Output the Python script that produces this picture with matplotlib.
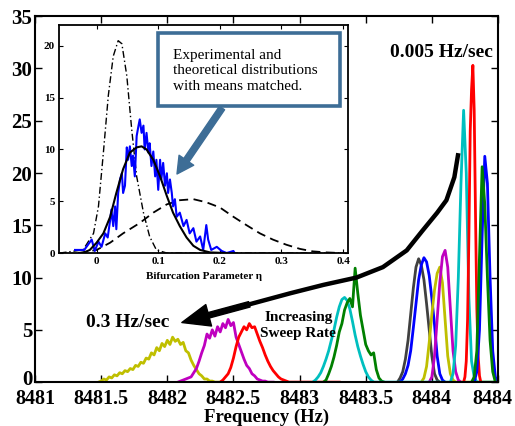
import numpy as np
import matplotlib
matplotlib.use('Agg')
import matplotlib.pyplot as plt
import matplotlib.transforms as mtransforms
from matplotlib.patches import Rectangle, FancyArrowPatch

plt.rcParams['font.family'] = ['Liberation Serif', 'DejaVu Serif']

# ---------------- data: main frequency histograms ----------------
yel1_start, yel1_step = 8481.48, 0.02
yel1_vals = [0, 0.1, 0.3, 0.2, 0.5, 0.4, 0.7, 0.6, 0.9, 0.8, 1.1, 1.0, 1.3, 1.2, 1.6, 1.5,
             1.9, 1.8, 2.3, 2.2, 2.8, 2.6, 3.3, 3.0, 3.7, 3.4, 4.0, 3.6, 4.3, 3.9, 4.1, 3.6,
             3.8, 3.0, 2.8, 2.1, 1.6, 1.2, 0.8, 0.6, 0.3, 0.3, 0.1, 0.1, 0, 0, 0]
mag1_start, mag1_step = 8482.08, 0.02
mag1_vals = [0, 0.1, 0.2, 0.3, 0.4, 0.5, 0.9, 1.3, 2.0, 2.8, 3.5, 4.6, 4.2, 5.0, 4.4, 5.3,
             4.8, 5.6, 5.2, 6.0, 5.4, 5.7, 4.3, 3.6, 2.9, 2.2, 1.6, 1.3, 0.8, 0.6, 0.3, 0.2,
             0.1, 0.1, 0, 0, 0]
red1_start, red1_step = 8482.40, 0.02
red1_vals = [0, 0.2, 0.5, 0.8, 1.4, 2.3, 3.4, 4.3, 4.8, 5.3, 5.0, 5.6, 5.2, 5.3, 4.6, 3.9,
             3.3, 2.6, 2.0, 1.5, 1.1, 0.8, 0.5, 0.3, 0.2, 0.1] + [0] * 20
cya1_start, cya1_step = 8483.10, 0.02
cya1_vals = [0, 0.2, 0.5, 0.9, 1.5, 2.2, 3.0, 4.0, 5.0, 6.2, 7.2, 7.9, 8.1, 7.8, 7.0, 5.8,
             4.5, 3.4, 2.5, 1.7, 1.0, 0.5, 0.2, 0]
grn1_start, grn1_step = 8483.18, 0.02
grn1_vals = [0, 0.2, 0.8, 1.5, 2.4, 3.5, 4.8, 5.6, 6.9, 7.6, 8.0, 7.2, 10.9, 8.5, 6.4, 5.0,
             3.6, 3.0, 2.6, 2.8, 1.2, 0.4, 0.1, 0]
gry1_start, gry1_step = 8483.74, 0.02
gry1_vals = [0, 0.4, 1.0, 2.2, 4.0, 6.5, 9.0, 11.0, 11.8, 11.2, 9.8, 7.5, 5.0, 2.5, 0.8, 0.2, 0]
blu1_start, blu1_step = 8483.76, 0.02
blu1_vals = [0, 0.3, 0.8, 1.6, 3.0, 5.2, 7.5, 9.8, 11.2, 11.9, 11.5, 10.2, 8.0, 5.5, 2.5,
             0.8, 0.2, 0]
yel2_start, yel2_step = 8483.92, 0.02
yel2_vals = [0, 0.4, 1.5, 3.8, 6.5, 8.8, 10.4, 11.0, 9.5, 6.0, 2.5, 0.8, 0.2, 0] + [0] * 14
mag2_start, mag2_step = 8483.98, 0.02
mag2_vals = [0, 0.5, 2.5, 6.0, 9.5, 12.0, 12.6, 11.0, 7.0, 3.0, 1.0, 0.2, 0]
cya2_start, cya2_step = 8483.56, 0.02
cya2_vals = [0] * 30 + [0.8, 3.5, 10.0, 19.0, 26.0, 20.0, 8.0, 2.0, 0.5, 0] + [0] * 8
red2_start, red2_step = 8484.24, 0.01
red2_vals = [0, 0.5, 2, 6, 14, 24, 28, 30.3, 26, 16, 7, 2.5, 0.6, 0]
blu2_start, blu2_step = 8484.32, 0.02
blu2_vals = [0, 1, 5, 14, 21.6, 19, 10, 3, 0.5, 0]
grn2_start, grn2_step = 8484.30, 0.02
grn2_vals = [0, 0.5, 3, 12, 20.6, 17, 10, 4, 1, 0]

main_series = [
    (yel1_start, yel1_step, yel1_vals, (0.75, 0.75, 0)),
    (mag1_start, mag1_step, mag1_vals, (0.75, 0, 0.75)),
    (red1_start, red1_step, red1_vals, (1, 0, 0)),
    (cya1_start, cya1_step, cya1_vals, (0, 0.75, 0.75)),
    (grn1_start, grn1_step, grn1_vals, (0, 0.5, 0)),
    (gry1_start, gry1_step, gry1_vals, (0.25, 0.25, 0.25)),
    (blu1_start, blu1_step, blu1_vals, (0, 0, 1)),
    (yel2_start, yel2_step, yel2_vals, (0.75, 0.75, 0)),
    (mag2_start, mag2_step, mag2_vals, (0.75, 0, 0.75)),
    (cya2_start, cya2_step, cya2_vals, (0, 0.75, 0.75)),
    (red2_start, red2_step, red2_vals, (1, 0, 0)),
    (blu2_start, blu2_step, blu2_vals, (0, 0, 1)),
    (grn2_start, grn2_step, grn2_vals, (0, 0.5, 0)),
]

xticks = [8481, 8481.5, 8482, 8482.5, 8483, 8483.5, 8484, 8484.5]
xtick_labels = ['8481', '8481.5', '8482', '8482.5', '8483', '8483.5', '8484', '8484']
yticks = [0, 5, 10, 15, 20, 25, 30, 35]

# curved arrow path (annotation)
arrow_x = [8484.20, 8484.17, 8484.11, 8484.04, 8483.93, 8483.81, 8483.63, 8483.43, 8483.18, 8482.93, 8482.62]
arrow_y = [21.9, 19.6, 17.4, 16.2, 14.5, 12.6, 11.0, 10.0, 9.3, 8.5, 7.44]
arrow_tip = (8482.11, 5.7)

# ---------------- data: inset ----------------
eta_dd = [-0.06, -0.022, -0.005, 0.003, 0.011, 0.019, 0.027, 0.035, 0.041, 0.049, 0.057,
          0.065, 0.076, 0.086, 0.097, 0.114, 0.2, 0.3, 0.4]
val_dd = [0, 0.3, 1.9, 4.5, 9.7, 15.2, 19.0, 20.5, 20.2, 17.1, 11.9, 7.4, 3.9, 1.6, 0.3, 0,
          0, 0, 0]
eta_th = [-0.022, -0.011, 0, 0.011, 0.022, 0.032, 0.043, 0.054, 0.065, 0.073, 0.081, 0.092,
          0.103, 0.114, 0.124, 0.135, 0.146, 0.157, 0.168, 0.184, 0.21]
val_th = [0, 0.3, 1.0, 1.9, 3.5, 5.8, 8.1, 9.7, 10.2, 10.3, 10.0, 9.0, 7.4, 5.5, 3.9, 2.6,
          1.5, 0.7, 0.3, 0.06, 0]
eta_da = [-0.03, 0, 0.022, 0.043, 0.070, 0.092, 0.114, 0.135, 0.157, 0.178, 0.2, 0.222,
          0.243, 0.265, 0.286, 0.308, 0.33, 0.351, 0.373, 0.397]
val_da = [0, 0.3, 1.0, 1.9, 2.9, 3.9, 4.7, 5.1, 5.2, 4.9, 4.4, 3.5, 2.7, 1.9, 1.3, 0.8, 0.4,
          0.16, 0.06, 0]
eta_ex = [-0.035, -0.02, -0.008, -0.003, 0.003, 0.008, 0.014, 0.018, 0.022, 0.024, 0.027, 0.03,
          0.032, 0.035, 0.038, 0.041, 0.043, 0.046, 0.049, 0.051, 0.054, 0.057, 0.059, 0.062,
          0.065, 0.068, 0.07, 0.073, 0.076, 0.078, 0.081, 0.084, 0.086, 0.089, 0.092, 0.095,
          0.097, 0.1, 0.103, 0.105, 0.108, 0.111, 0.114, 0.116, 0.119, 0.122, 0.124, 0.127,
          0.13, 0.135, 0.141, 0.146, 0.151, 0.157, 0.162, 0.168, 0.173, 0.178, 0.181, 0.186,
          0.195, 0.203, 0.211, 0.222, 0.224]
val_ex = [0.3, 0.3, 1.3, 0.2, 1.1, 0.6, 1.9, 1.5, 3.2, 4.2, 2.6, 4.5, 2.3, 5.8, 7.1, 7.7,
          5.8, 6.5, 10.2, 9.0, 10.3, 8.4, 9.4, 7.4, 11.3, 12.3, 12.9, 11.6, 12.3, 10.0, 11.6,
          9.7, 10.6, 8.4, 9.8, 7.4, 9.0, 6.1, 9.0, 7.1, 8.7, 6.5, 7.7, 5.8, 7.1, 5.8, 4.5,
          5.2, 3.5, 3.9, 2.6, 3.2, 1.9, 2.4, 1.1, 1.6, 0.3, 2.7, 1.3, 0.3, 0.6, 0.2, 0, 0.2, 0]

box_color = '#3d6d96'

# ---------------- figure ----------------
fig = plt.figure(figsize=(5.15, 4.26), dpi=100)
ax = fig.add_axes([0.068, 0.103, 0.899, 0.859])

for start, step, vals, col in main_series:
    x = start + step * np.arange(len(vals))
    ax.plot(x, vals, color=col, lw=2.0)

ax.set_xlim(8481, 8484.5)
ax.set_ylim(0, 35)
ax.set_xticks(xticks)
ax.set_xticklabels(xtick_labels, fontweight='bold', fontsize=14.5)
ax.set_yticks(yticks)
ax.set_yticklabels([str(v) for v in yticks], fontweight='bold', fontsize=15)
ax.tick_params(direction='in', top=True, right=True, length=5, width=1)
ax.tick_params(axis='x', pad=5)
ax.tick_params(axis='y', pad=2)
for s in ax.spines.values():
    s.set_linewidth(1.5)
# shift last tick label slightly left so it stays inside the figure
last = ax.get_xticklabels()[-1]
last.set_transform(last.get_transform() + mtransforms.ScaledTranslation(-6 / 100, 0, fig.dpi_scale_trans))
# lift the "0" y label a little, as in the reference
first = ax.get_yticklabels()[0]
first.set_transform(first.get_transform() + mtransforms.ScaledTranslation(0, 5 / 100, fig.dpi_scale_trans))
ax.set_xlabel('Frequency (Hz)', fontweight='bold', fontsize=13.5)
ax.xaxis.set_label_coords(0.5, -0.072)

# curved arrow
ax.plot(arrow_x, arrow_y, color='k', lw=3.2, solid_capstyle='butt', solid_joinstyle='round')
arr = FancyArrowPatch((arrow_x[-1], arrow_y[-1]), arrow_tip,
                      arrowstyle='simple,head_width=0.8,head_length=1.0,tail_width=0.2',
                      mutation_scale=20, color='k', shrinkA=0, shrinkB=0)
ax.add_patch(arr)

ax.text(8484.07, 31.5, '0.005 Hz/sec', fontweight='bold', fontsize=14, ha='center', va='center')
ax.text(8481.70, 5.7, '0.3 Hz/sec', fontweight='bold', fontsize=14, ha='center', va='center')
ax.text(8482.99, 5.4, 'Increasing\nSweep Rate', fontweight='bold', fontsize=11,
        ha='center', va='center', linespacing=1.35)

# inset
axin = fig.add_axes([0.1146, 0.406, 0.5612, 0.535])
axin.plot(eta_dd, val_dd, color='k', lw=1.0, ls=(0, (5, 2, 1, 2)))
axin.plot(eta_da, val_da, color='k', lw=1.3, ls=(0, (5, 3)))
axin.plot(eta_ex, val_ex, color=(0, 0, 1), lw=1.5)
axin.plot(eta_th, val_th, color='k', lw=1.5)
axin.set_xlim(-0.061, 0.408)
axin.set_ylim(0, 22)
axin.set_xticks([0, 0.1, 0.2, 0.3, 0.4])
axin.set_xticklabels(['0', '0.1', '0.2', '0.3', '0.4'], fontweight='bold', fontsize=8)
axin.set_yticks([0, 5, 10, 15, 20])
axin.set_yticklabels(['0', '5', '10', '15', '20'], fontweight='bold', fontsize=8)
axin.tick_params(direction='in', top=True, right=True, length=3, width=0.8, pad=3)
for s in axin.spines.values():
    s.set_linewidth(1.3)
axin.set_xlabel('Bifurcation Parameter \u03b7', fontweight='bold', fontsize=8, labelpad=4)

# annotation box
rect = Rectangle((158 / 515, 1 - 106 / 426), (340 - 158) / 515, (106 - 33) / 426,
                 transform=fig.transFigure, facecolor='white', edgecolor=box_color,
                 lw=2.6, zorder=10)
fig.add_artist(rect)
fig.text(173 / 515, 1 - 71 / 426, 'Experimental and\ntheoretical distributions\nwith means matched.',
         ha='left', va='center', fontsize=11, linespacing=1.2, zorder=11)
barr = FancyArrowPatch((222 / 515, 1 - 108 / 426), (177 / 515, 1 - 174 / 426),
                       transform=fig.transFigure,
                       arrowstyle='simple,head_width=0.85,head_length=0.8,tail_width=0.3',
                       mutation_scale=15, color=box_color, shrinkA=0, shrinkB=0, zorder=10)
fig.add_artist(barr)

fig.savefig('out.png', dpi=100)
